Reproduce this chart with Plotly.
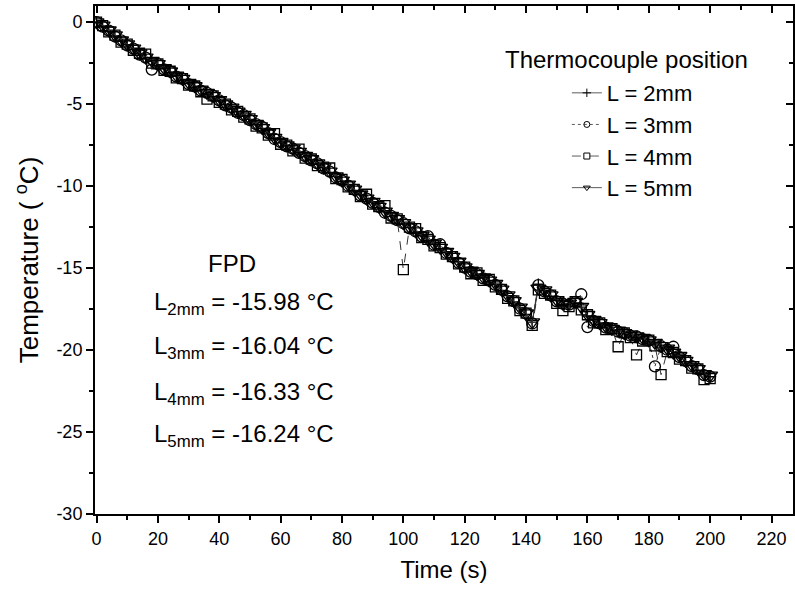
import plotly.graph_objects as go

# time axis (s), sampled every 2 s
time_s = list(range(0, 201, 2))

# temperature readings (deg C), one list per thermocouple
temp_2mm = [
    0.00, -0.23, -0.57, -0.84, -1.17, -1.38, -1.66, -1.93, -2.22, -2.38,
    -2.62, -2.83, -3.07, -3.28, -3.52, -3.73, -3.97, -4.13, -4.37, -4.53,
    -4.82, -5.03, -5.27, -5.48, -5.72, -5.93, -6.27, -6.48, -6.82, -7.08,
    -7.37, -7.53, -7.77, -7.93, -8.22, -8.38, -8.67, -8.88, -9.17, -9.43,
    -9.72, -9.93, -10.27, -10.53, -10.82, -10.98, -11.32, -11.58, -11.87, -12.03,
    -12.32, -12.53, -12.82, -13.03, -13.32, -13.53, -13.82, -14.03, -14.37, -14.63,
    -15.02, -15.18, -15.42, -15.58, -15.82, -15.98, -16.37, -16.68, -17.07, -17.43,
    -17.82, -18.30, -15.98, -16.38, -16.72, -16.98, -17.22, -17.18, -17.12, -17.38,
    -17.92, -18.18, -18.42, -18.58, -18.77, -18.83, -19.02, -19.08, -19.22, -19.28,
    -19.47, -19.58, -19.82, -19.93, -20.22, -20.38, -20.72, -20.93, -21.22, -21.48,
    -21.63,
]
temp_3mm = [
    0.00, -0.28, -0.52, -0.88, -1.12, -1.43, -1.62, -1.98, -2.17, -2.90,
    -2.57, -2.88, -3.02, -3.33, -3.47, -3.78, -3.92, -4.18, -4.32, -4.50,
    -4.77, -5.08, -5.22, -5.53, -5.67, -5.98, -6.22, -6.40, -6.77, -7.13,
    -7.32, -7.58, -7.72, -7.98, -8.17, -8.43, -8.62, -8.93, -9.12, -9.48,
    -9.67, -9.98, -10.22, -10.58, -10.77, -11.03, -11.27, -11.63, -11.82, -12.08,
    -12.27, -12.58, -12.77, -13.08, -13.05, -13.58, -13.55, -14.08, -14.32, -14.68,
    -14.97, -15.23, -15.37, -15.63, -15.77, -16.03, -16.32, -16.73, -17.02, -17.48,
    -17.77, -18.38, -16.04, -16.43, -16.67, -17.03, -17.17, -17.23, -17.07, -16.60,
    -18.60, -18.23, -18.37, -18.63, -18.72, -18.88, -18.97, -19.13, -19.17, -19.33,
    -19.42, -21.00, -19.77, -19.98, -19.80, -20.43, -20.67, -20.98, -21.17, -21.53,
    -21.62,
]
temp_4mm = [
    0.00, -0.22, -0.60, -0.80, -1.22, -1.35, -1.72, -1.90, -1.95, -2.50,
    -2.55, -2.95, -3.00, -3.40, -3.45, -3.85, -3.90, -4.25, -4.70, -4.50,
    -4.90, -5.00, -5.35, -5.45, -5.80, -5.90, -6.35, -6.45, -6.90, -6.80,
    -7.45, -7.50, -7.85, -7.75, -8.30, -8.35, -8.75, -8.85, -8.90, -9.55,
    -9.60, -10.05, -10.20, -10.65, -10.50, -11.10, -11.25, -11.20, -11.95, -12.00,
    -15.10, -12.50, -12.60, -13.15, -13.25, -13.65, -13.75, -14.15, -14.30, -14.75,
    -14.95, -15.35, -15.30, -15.75, -15.70, -16.15, -16.30, -16.85, -17.00, -17.60,
    -17.75, -18.50, -16.33, -16.55, -16.65, -17.15, -17.60, -17.35, -17.05, -17.55,
    -17.85, -18.35, -18.35, -18.75, -18.70, -19.80, -18.95, -19.25, -20.30, -19.45,
    -19.40, -19.75, -21.50, -20.10, -20.15, -20.55, -20.65, -21.10, -21.15, -21.80,
    -21.75,
]
temp_5mm = [
    0.00, -0.20, -0.50, -0.80, -1.10, -1.35, -1.60, -1.90, -2.15, -2.35,
    -2.55, -2.80, -3.00, -3.25, -3.45, -3.70, -3.90, -4.10, -4.30, -4.50,
    -4.75, -5.00, -5.20, -5.45, -5.65, -5.90, -6.20, -6.45, -6.75, -7.05,
    -7.30, -7.50, -7.70, -7.90, -8.15, -8.35, -8.60, -8.85, -9.10, -9.40,
    -9.65, -9.90, -10.20, -10.50, -10.75, -10.95, -11.25, -11.55, -11.80, -12.00,
    -12.25, -12.50, -12.75, -13.00, -13.25, -13.50, -13.75, -14.00, -14.30, -14.60,
    -14.95, -15.15, -15.35, -15.55, -15.75, -15.95, -16.30, -16.65, -17.00, -17.40,
    -17.75, -18.30, -16.24, -16.35, -16.65, -16.95, -17.15, -17.15, -17.05, -17.35,
    -17.85, -18.15, -18.35, -18.55, -18.70, -18.80, -18.95, -19.05, -19.15, -19.25,
    -19.40, -19.55, -19.75, -19.90, -20.15, -20.35, -20.65, -20.90, -21.15, -21.45,
    -21.55,
]

series_names = ["L = 2mm", "L = 3mm", "L = 4mm", "L = 5mm"]
fpd_labels = ["2mm", "3mm", "4mm", "5mm"]
fpd_values = [-15.98, -16.04, -16.33, -16.24]

x_ticks = list(range(0, 221, 20))
y_ticks = [0, -5, -10, -15, -20, -25, -30]
y_ticktext = ["0", "-5", "-10", "-15", "-20", "-25", "-30"]

FONT = "Liberation Sans, Arial, sans-serif"

styles = [
    dict(symbol="cross-thin-open", size=8, dash="solid"),
    dict(symbol="circle-open", size=11, dash="dot"),
    dict(symbol="square-open", size=10, dash="dash"),
    dict(symbol="triangle-down-open", size=13, dash="solid"),
]

fig = go.Figure()

for name, values, st in zip(series_names, [temp_2mm, temp_3mm, temp_4mm, temp_5mm], styles):
    fig.add_trace(
        go.Scatter(
            x=time_s,
            y=values,
            mode="lines+markers",
            line=dict(color="#333333", width=1, dash=st["dash"]),
            marker=dict(symbol=st["symbol"], size=st["size"], color="black", line=dict(color="black", width=1.3)),
            showlegend=False,
        )
    )
    # legend-only copy with smaller marker, like the original legend
    fig.add_trace(
        go.Scatter(
            x=[None],
            y=[None],
            name=name,
            mode="lines+markers",
            line=dict(color="#333333", width=0.8, dash=st["dash"]),
            marker=dict(symbol=st["symbol"], size=6, color="black", line=dict(color="black", width=1)),
        )
    )

# empty trace so the top / right mirror axes get drawn
fig.add_trace(go.Scatter(x=[], y=[], xaxis="x2", yaxis="y2", showlegend=False))

x_range = [-0.5, 227]
y_range = [-30, 0.98]

fig.update_layout(
    width=795,
    height=598,
    margin=dict(l=95, r=2, t=6, b=84),
    paper_bgcolor="white",
    plot_bgcolor="white",
    font=dict(family=FONT, color="black"),
    xaxis=dict(
        range=x_range,
        tickvals=x_ticks,
        ticks="outside",
        ticklen=7,
        tickwidth=1.5,
        tickcolor="black",
        minor=dict(dtick=10, tick0=0, ticks="outside", ticklen=4, tickwidth=1.5, tickcolor="black"),
        showline=True,
        linewidth=2,
        linecolor="black",
        showgrid=False,
        zeroline=False,
        tickfont=dict(size=18),
        title=dict(text="Time (s)", font=dict(size=24), standoff=14),
    ),
    yaxis=dict(
        range=y_range,
        tickvals=y_ticks,
        ticktext=y_ticktext,
        ticks="outside",
        ticklen=7,
        tickwidth=1.5,
        tickcolor="black",
        minor=dict(dtick=2.5, tick0=0, ticks="outside", ticklen=4, tickwidth=1.5, tickcolor="black"),
        showline=True,
        linewidth=2,
        linecolor="black",
        showgrid=False,
        zeroline=False,
        tickfont=dict(size=18),
        title=dict(text="Temperature ( <sup>o</sup>C)", font=dict(size=26), standoff=10),
    ),
    xaxis2=dict(
        overlaying="x",
        side="top",
        range=x_range,
        tickvals=x_ticks,
        ticks="inside",
        ticklen=7,
        tickwidth=1.5,
        tickcolor="black",
        minor=dict(dtick=10, tick0=0, ticks="inside", ticklen=4, tickwidth=1.5, tickcolor="black"),
        showticklabels=False,
        showline=True,
        linewidth=2,
        linecolor="black",
        showgrid=False,
        zeroline=False,
    ),
    yaxis2=dict(
        overlaying="y",
        side="right",
        range=y_range,
        tickvals=y_ticks,
        ticks="inside",
        ticklen=7,
        tickwidth=1.5,
        tickcolor="black",
        minor=dict(dtick=2.5, tick0=0, ticks="inside", ticklen=4, tickwidth=1.5, tickcolor="black"),
        showticklabels=False,
        showline=True,
        linewidth=2,
        linecolor="black",
        showgrid=False,
        zeroline=False,
    ),
    legend=dict(
        x=0.676,
        y=0.87,
        xanchor="left",
        yanchor="top",
        bgcolor="rgba(0,0,0,0)",
        font=dict(size=22, family=FONT),
        tracegroupgap=0,
    ),
)

fig.add_annotation(
    text="Thermocouple position",
    xref="paper", yref="paper", x=0.762, y=0.894,
    xanchor="center", yanchor="middle", showarrow=False,
    font=dict(size=24),
)

fig.add_annotation(
    text="FPD",
    xref="paper", yref="paper", x=0.196, y=0.494,
    xanchor="center", yanchor="middle", showarrow=False,
    font=dict(size=24),
)
row_y = [0.415, 0.327, 0.238, 0.155]
for lab, val, yy in zip(fpd_labels, fpd_values, row_y):
    fig.add_annotation(
        text="L<sub>{}</sub> = {:.2f} °C".format(lab, val),
        xref="paper", yref="paper", x=0.0817, y=yy,
        xanchor="left", yanchor="middle", showarrow=False,
        font=dict(size=24),
    )

# drop the default 8px page margin so the figure sits at the window origin
fig.write_html(
    "out.html",
    config={"displayModeBar": False},
    post_script="document.body.style.margin='0px';",
)
